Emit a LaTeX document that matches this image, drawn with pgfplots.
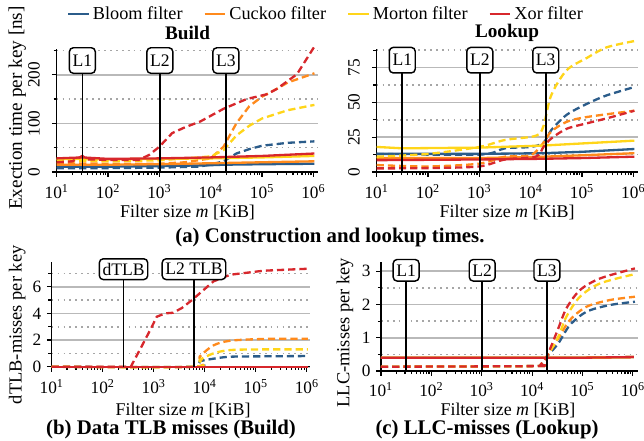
\documentclass[border=0pt]{standalone}
\usepackage{pgfplots}
\pgfplotsset{compat=1.18}
\usepackage{fontspec}
\setmainfont{Liberation Serif}
\definecolor{bloomc}{HTML}{2B5C8A}
\definecolor{cuckooc}{HTML}{FF8A1C}
\definecolor{mortonc}{HTML}{FFD51A}
\definecolor{xorc}{HTML}{D7272C}
\tikzset{
  sol/.style={line width=1.45pt, solid},
  das/.style={line width=1.45pt, dash pattern=on 4.5pt off 2.5pt},
  mk/.style={draw=black, line width=0.9pt, fill=white, rounded corners=2.5pt, inner sep=2pt, font=\fontsize{11}{12}\selectfont},
  vl/.style={line width=1pt},
}
\pgfplotsset{
  myaxis/.style={
    scale only axis,
    xmin=10,
    axis x line*=bottom,
    axis y line*=left,
    axis line style={line width=0.8pt},
    tick align=outside,
    major tick length=3pt,
    minor tick length=2pt,
    every tick/.style={black, line width=0.7pt},
    xtick={10,100,1000,10000,100000,1000000},
    xticklabels={10\textsuperscript{1},10\textsuperscript{2},10\textsuperscript{3},10\textsuperscript{4},10\textsuperscript{5},10\textsuperscript{6}},
    minor xtick={20,30,40,50,60,70,80,90,200,300,400,500,600,700,800,900,2000,3000,4000,5000,6000,7000,8000,9000,20000,30000,40000,50000,60000,70000,80000,90000,200000,300000,400000,500000,600000,700000,800000,900000},
    ymin=0,
    ymajorgrids, yminorgrids,
    major grid style={gray!55, line width=1pt},
    minor grid style={gray!70, line width=1pt, dash pattern=on 1.1pt off 2.6pt},
    tick label style={font=\fontsize{10.8}{12}\selectfont},
    xticklabel style={yshift=-1.2pt},
    /pgf/number format/assume math mode=true,
    clip=false,
  },
}
\begin{document}
\begin{tikzpicture}
\useasboundingbox (0,0) rectangle (402.5pt,-275.6pt);
% ---------------- Build ----------------
\begin{axis}[xmode=log, myaxis, anchor=south west, at={(35.44pt,-107.5pt)}, width=163.3pt, height=76.6pt,
  xmax=1230000, ymax=252,
  ytick={0,100,200}, minor ytick={50,150,250},
  yticklabel style={xshift=-4pt, rotate=90},
  legend columns=4,
  legend style={draw=none, fill=none, at={(1.0325,1.29)}, anchor=center, font=\fontsize{11.4}{13}\selectfont,
    /tikz/every even column/.append style={column sep=11pt}},
  legend image code/.code={\draw[#1] (0cm,0cm) -- (0.45cm,0cm);},
]
\addlegendimage{bloomc, line width=1.45pt}\addlegendentry{Bloom filter}
\addlegendimage{cuckooc, line width=1.45pt}\addlegendentry{Cuckoo filter}
\addlegendimage{mortonc, line width=1.45pt}\addlegendentry{Morton filter}
\addlegendimage{xorc, line width=1.45pt}\addlegendentry{Xor filter}
\addplot[bloomc, sol, forget plot] coordinates {(10,11) (100,11) (1000,12) (10000,14) (17783,15) (100000,16) (1048576,17)};
\addplot[bloomc, das, forget plot] coordinates {(10,8) (100,8) (1000,9) (5623,11) (10000,15) (17783,22) (31623,38) (56234,47) (100000,54) (316228,60) (1048576,63)};
\addplot[cuckooc, sol, forget plot] coordinates {(10,15) (100,15) (1000,16) (10000,18) (100000,20) (1048576,22)};
\addplot[cuckooc, das, forget plot] coordinates {(10,18) (100,17) (1000,17) (3162,20) (10000,28) (17783,52) (31623,100) (56234,135) (100000,155) (195000,171) (316228,184) (1048576,203)};
\addplot[mortonc, sol, forget plot] coordinates {(10,27) (100,26) (1000,27) (10000,28) (100000,30) (1048576,33)};
\addplot[mortonc, das, forget plot] coordinates {(10,24) (100,22) (1000,24) (3162,28) (10000,32) (17783,45) (31623,75) (56234,95) (100000,110) (316228,127) (1048576,138)};
\addplot[xorc, sol, forget plot] coordinates {(10,28) (31.6,30) (100,27) (1000,28) (10000,30) (100000,33) (1048576,38)};
\addplot[xorc, das, forget plot] coordinates {(10,20) (20,22) (31.6,33) (40,26) (100,25) (398,25) (631,35) (1000,52) (1778,80) (3162,92) (6310,104) (17783,130) (50119,150) (125893,160) (195000,171) (478630,201) (1048576,258)};
\draw[vl] (axis cs:31.6,0) -- (axis cs:31.6,240);
\draw[vl] (axis cs:1024,0) -- (axis cs:1024,240);
\draw[vl] (axis cs:19712,0) -- (axis cs:19712,240);
\node[mk, anchor=north, minimum height=16pt] at (axis cs:31.6,257) {L1};
\node[mk, anchor=north, minimum height=16pt] at (axis cs:1024,257) {L2};
\node[mk, anchor=north, minimum height=16pt] at (axis cs:19712,257) {L3};
\end{axis}
% ---------------- Lookup ----------------
\begin{axis}[xmode=log, myaxis, anchor=south west, at={(235.4pt,-107.5pt)}, width=163.3pt, height=76.6pt,
  xmax=1230000, ymax=88,
  ytick={0,25,50,75}, minor ytick={12.5,37.5,62.5,87.5},
  yticklabel style={xshift=-4pt, rotate=90},
]
\addplot[bloomc, sol] coordinates {(10,13) (1000,13) (17783,13.5) (100000,14.5) (1048576,16.5)};
\addplot[bloomc, das, smooth] coordinates {(10,13) (1000,12.5) (3162,17) (10000,18) (17783,21) (25119,30) (50119,41) (125893,49) (301995,55) (1048576,61)};
\addplot[cuckooc, sol] coordinates {(10,10) (1000,10) (17783,11) (100000,12) (1048576,13.5)};
\addplot[cuckooc, das, smooth] coordinates {(10,5) (100,4) (1000,6) (3162,11) (10000,12) (17783,21) (25119,29) (50119,36) (125893,39.5) (1048576,44)};
\addplot[mortonc, sol] coordinates {(10,18) (31.6,17) (1000,17.5) (17783,19) (100000,20.5) (1048576,22.5)};
\addplot[mortonc, das, smooth] coordinates {(10,11) (100,13) (1000,18) (3162,23) (12589,26) (17783,33) (25119,55) (50119,73) (125893,82) (301995,89.5) (1048576,94)};
\addplot[xorc, sol] coordinates {(10,8.5) (1000,9) (17783,9.5) (100000,10) (1048576,11)};
\addplot[xorc, das, smooth] coordinates {(10,2.6) (100,2.8) (1000,4) (3162,9) (12589,11) (17783,18) (25119,24) (50119,31) (125893,35) (301995,38.5) (1048576,44)};
\draw[vl] (axis cs:31.6,0) -- (axis cs:31.6,84);
\draw[vl] (axis cs:1024,0) -- (axis cs:1024,84);
\draw[vl] (axis cs:19712,0) -- (axis cs:19712,84);
\node[mk, anchor=north, minimum height=16pt] at (axis cs:31.6,90) {L1};
\node[mk, anchor=north, minimum height=16pt] at (axis cs:1024,90) {L2};
\node[mk, anchor=north, minimum height=16pt] at (axis cs:19712,90) {L3};
\end{axis}
% ---------------- TLB ----------------
\begin{axis}[xmode=log, myaxis, anchor=south west, at={(32.3pt,-229.2pt)}, width=161.4pt, height=65.25pt,
  xmax=1150000, ymax=7.83,
  ytick={0,2,4,6}, minor ytick={1,3,5,7},
]
\addplot[bloomc, sol] coordinates {(10,0) (1048576,0)};
\addplot[bloomc, das, smooth] coordinates {(10,0) (6144,0) (7943,0.4) (14791,0.6) (31623,0.75) (141254,0.78) (1048576,0.8)};
\addplot[cuckooc, sol] coordinates {(10,0) (1048576,0)};
\addplot[cuckooc, das, smooth] coordinates {(10,0) (6144,0) (7943,0.75) (14791,1.6) (31623,1.95) (141254,2.08) (1048576,2.1)};
\addplot[mortonc, sol] coordinates {(10,0) (1048576,0)};
\addplot[mortonc, das, smooth] coordinates {(10,0) (6144,0) (7943,0.5) (14791,1.0) (31623,1.25) (141254,1.3) (1048576,1.3)};
\addplot[xorc, das] coordinates {(10,0) (355,0) (575,1.5) (851,2.75) (1148,3.75) (1660,4.0) (2399,4.05) (3548,4.4) (5623,5.0) (14791,6.4) (31623,6.9) (141254,7.2) (1048576,7.35)};
\addplot[xorc, sol] coordinates {(10,0) (1048576,0)};
\draw[vl] (axis cs:256,0) -- (axis cs:256,7.3);
\draw[vl] (axis cs:6144,0) -- (axis cs:6144,7.3);
\node[mk, anchor=north, minimum height=13pt] at (axis cs:256,8.15) {dTLB};
\node[mk, anchor=north, minimum height=13pt] at (axis cs:6144,8.15) {L2 TLB};
\end{axis}
% ---------------- LLC ----------------
\begin{axis}[xmode=log, myaxis, anchor=south west, at={(238.1pt,-231.9pt)}, width=160.6pt, height=68.3pt,
  xmax=1260000, ymax=3.28,
  ytick={0,1,2,3}, minor ytick={0.5,1.5,2.5},
  xticklabel style={yshift=0.8pt},
]
\addplot[bloomc, sol] coordinates {(10,0.4) (100000,0.4) (1048576,0.42)};
\addplot[cuckooc, sol] coordinates {(10,0.4) (100000,0.4) (1048576,0.42)};
\addplot[mortonc, sol] coordinates {(10,0.4) (100000,0.4) (1048576,0.42)};
\addplot[bloomc, das, smooth] coordinates {(10,0.13) (12303,0.15) (15000,0.2) (19498,0.43) (33113,0.83) (56234,1.38) (120226,1.78) (346737,1.98) (1100000,2.08)};
\addplot[cuckooc, das, smooth] coordinates {(10,0.13) (12303,0.15) (15000,0.2) (19498,0.43) (33113,0.98) (56234,1.53) (120226,1.93) (346737,2.13) (1100000,2.23)};
\addplot[mortonc, das, smooth] coordinates {(10,0.13) (12303,0.15) (15000,0.2) (19498,0.43) (33113,1.03) (47863,1.63) (89125,2.23) (223872,2.63) (1100000,2.91)};
\addplot[xorc, das, smooth] coordinates {(10,0.13) (12303,0.15) (15000,0.2) (19498,0.43) (33113,1.28) (47863,1.88) (89125,2.43) (223872,2.78) (1100000,3.08)};
\addplot[xorc, sol] coordinates {(10,0.4) (100000,0.4) (1048576,0.42)};
\draw[vl] (axis cs:31.6,0) -- (axis cs:31.6,3.1);
\draw[vl] (axis cs:1024,0) -- (axis cs:1024,3.1);
\draw[vl] (axis cs:19712,0) -- (axis cs:19712,3.1);
\node[mk, anchor=north, minimum height=13.5pt] at (axis cs:31.6,3.37) {L1};
\node[mk, anchor=north, minimum height=13.5pt] at (axis cs:1024,3.37) {L2};
\node[mk, anchor=north, minimum height=13.5pt] at (axis cs:19712,3.37) {L3};
\end{axis}
% ---------------- texts ----------------
\node[font=\bfseries\fontsize{12}{14}\selectfont] at (117.2pt,-20.6pt) {Build};
\node[font=\bfseries\fontsize{12}{14}\selectfont] at (316.9pt,-20.6pt) {Lookup};
\node[inner sep=0pt, font=\fontsize{11.2}{13}\selectfont] at (117.2pt,-133pt) {Filter size \textit{m} [KiB]};
\node[inner sep=0pt, font=\fontsize{11.2}{13}\selectfont] at (316.9pt,-133pt) {Filter size \textit{m} [KiB]};
\node[inner sep=0pt, font=\fontsize{11.2}{13}\selectfont] at (114.4pt,-256.8pt) {Filter size \textit{m} [KiB]};
\node[inner sep=0pt, font=\fontsize{11.2}{13}\selectfont] at (317.5pt,-256.8pt) {Filter size \textit{m} [KiB]};
\node[font=\fontsize{12}{14}\selectfont, rotate=90] at (10.8pt,-67.5pt) {Exection time per key [ns]};
\node[font=\fontsize{11.5}{13}\selectfont, rotate=90] at (10.8pt,-203pt) {dTLB-misses per key};
\node[font=\fontsize{11.5}{13}\selectfont, rotate=90] at (215.6pt,-208pt) {LLC-misses per key};
\node[inner sep=0pt, font=\bfseries\fontsize{13}{16}\selectfont] at (206.2pt,-148.3pt) {(a) Construction and lookup times.};
\node[inner sep=0pt, font=\bfseries\fontsize{13}{16}\selectfont] at (106.9pt,-268.4pt) {(b) Data TLB misses (Build)};
\node[inner sep=0pt, font=\bfseries\fontsize{13}{16}\selectfont] at (304.4pt,-268.4pt) {(c) LLC-misses (Lookup)};
\end{tikzpicture}
\end{document}
